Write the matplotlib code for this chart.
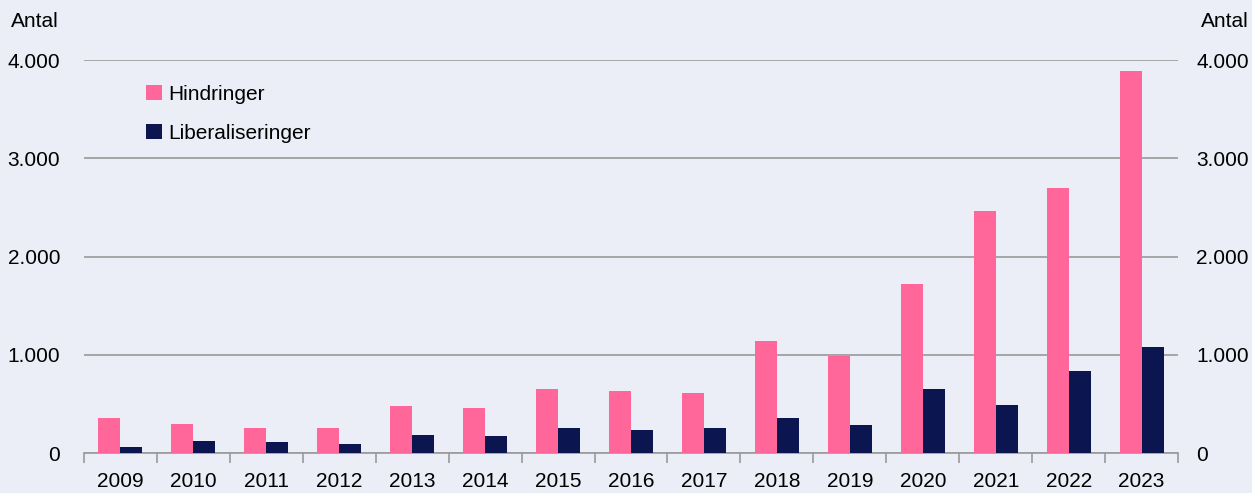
import numpy as np
import matplotlib.pyplot as plt
from matplotlib.ticker import FuncFormatter

years = ['2009', '2010', '2011', '2012', '2013', '2014', '2015', '2016',
         '2017', '2018', '2019', '2020', '2021', '2022', '2023']
hindringer = [352, 300, 255, 258, 477, 463, 657, 630, 607, 1138, 986, 1722, 2460, 2695, 3885]
liberaliseringer = [62, 125, 110, 88, 188, 174, 259, 234, 258, 353, 282, 651, 485, 836, 1076]

bg = '#EBEDF7'
pink = '#FF6699'
navy = '#0B1650'
grid_col = '#9A9A9A'
fs = 15

plt.rcParams['font.family'] = ['Liberation Sans', 'DejaVu Sans']

fig = plt.figure(figsize=(12.52, 4.93), dpi=100, facecolor=bg)
ax = fig.add_axes([0.067, 0.081, 0.874, 0.797], facecolor=bg)

x = np.arange(len(years))
w = 0.3
ax.bar(x - w / 2, hindringer, w, color=pink, label='Hindringer', zorder=3)
ax.bar(x + w / 2, liberaliseringer, w, color=navy, label='Liberaliseringer', zorder=3)

ax.set_xlim(-0.5, len(years) - 0.5)
ax.set_ylim(0, 4000)
ax.set_yticks([0, 1000, 2000, 3000, 4000])
fmt = FuncFormatter(lambda v, p: f'{int(v):,}'.replace(',', '.'))
ax.yaxis.set_major_formatter(fmt)
ax.grid(axis='y', color=grid_col, linewidth=1.2, zorder=0)

# x ticks at category boundaries, labels at centres
ax.set_xticks(np.arange(len(years) + 1) - 0.5)
ax.set_xticklabels([])
ax.set_xticks(x, minor=True)
ax.set_xticklabels(years, minor=True)
ax.tick_params(axis='x', which='major', length=7, color=grid_col, width=1.2)
ax.tick_params(axis='x', which='minor', length=0, pad=13.5, labelsize=fs)
ax.tick_params(axis='y', length=0, pad=17, labelsize=fs)

for s in ['top', 'left', 'right']:
    ax.spines[s].set_visible(False)
ax.spines['bottom'].set_color(grid_col)
ax.spines['bottom'].set_linewidth(1.2)

ax2 = ax.twinx()
ax2.set_ylim(0, 4000)
ax2.set_yticks([0, 1000, 2000, 3000, 4000])
ax2.yaxis.set_major_formatter(fmt)
ax2.tick_params(axis='y', length=0, pad=13, labelsize=fs)
for s in ax2.spines.values():
    s.set_visible(False)

fig.text(0.009, 0.957, 'Antal', fontsize=fs, va='center', ha='left')
fig.text(0.997, 0.957, 'Antal', fontsize=fs, va='center', ha='right')

ax.legend(loc='upper left', bbox_to_anchor=(0.04, 0.985), frameon=False,
          fontsize=fs, handlelength=0.75, handleheight=0.75, handletextpad=0.3,
          labelspacing=0.95)

fig.savefig('out.png', dpi=100, facecolor=bg)
